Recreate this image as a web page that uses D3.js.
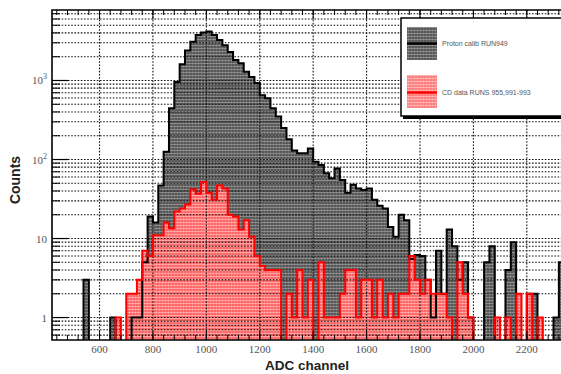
<!DOCTYPE html>
<html><head><meta charset="utf-8">
<script src="https://cdn.jsdelivr.net/npm/d3@7"></script>
<style>html,body{margin:0;padding:0;background:#fff;}svg{display:block;}</style>
</head><body>
<script>
// ---- data ----
const binStart = 420, binWidth = 20;
const protonCounts = [0,0,0,0,0,0,3,0,0,0,0,1,0,0,0,1,1,5,
 19,16,47,125,445,960,1600,2400,3100,3760,4040,4170,3760,3260,2800,2300,1820,1650,1290,1110,930,
 650,595,445,350,250,180,130,120,120,138,94,85,67,58,77,55,38,48,43,41,43,
 31,26,24,14,10.5,20,17,5.5,6.2,6,3,1,7,2,13,8,3,5,1,0,
 0,5,8,0,0,4,9,0,0,2,2,0,0,0,1,5];
const cdCounts = [0,0,0,0,0,0,0,0,0,0,0,0,1,0,2,2,3,7,
 6,11,11,16,13.5,22,24,27,42,37,52,38,31,47,43,20,19,13,17,10.5,6,
 4.5,4,4,4,0,2,1,4,1,3,0,5,1,1,1,2,4,4,1,3,3,
 1,3,1,2,1,2,2,6,3,2,3,2,2,2,1,0,5,2,1,0,
 0,0,0,1,0,1,0,2,0,2,0,1,0,0,0,0];
const xTicks = [600,800,1000,1200,1400,1600,1800,2000,2200];
const yTicks = [1,10,100,1000];
const yTickLabels = [["1",""],["10",""],["10","2"],["10","3"]];
const legendLabels = ["Proton calib RUN949","CD data RUNS 955,991-993"];

const W=561,H=374;
const L=52,T=10,B=340,R=561;
const x=d3.scaleLinear().domain([422,2328]).range([L,R]);
const ymin=0.52,ymax=7800;
const y=d3.scaleLog().domain([ymin,ymax]).range([B,T]).clamp(true);

const svg=d3.select("body").append("svg").attr("width",W).attr("height",H);
const defs=svg.append("defs");
defs.append("clipPath").attr("id","clip").append("rect").attr("x",L).attr("y",T).attr("width",R-L+5).attr("height",B-T);
function pat(id,base,lineOp){
  const p=defs.append("pattern").attr("id",id).attr("patternUnits","userSpaceOnUse").attr("width",3).attr("height",3);
  p.append("rect").attr("width",3).attr("height",3).attr("fill",base);
  p.append("rect").attr("width",3).attr("height",1).attr("fill","#fff").attr("opacity",lineOp);
  p.append("rect").attr("width",1).attr("height",3).attr("fill","#fff").attr("opacity",lineOp*0.4);
}
pat("gpat","#585858",0.28);
pat("rpat","#ff6666",0.38);

const bins=d3.range(protonCounts.length).map(i=>binStart+i*binWidth);
function stepPts(vals){
  const pts=[[bins[0],0]];
  vals.forEach((v,i)=>{pts.push([bins[i],v]);pts.push([bins[i]+binWidth,v]);});
  pts.push([bins[bins.length-1]+binWidth,0]);
  return pts;
}
const line=d3.line().x(d=>x(d[0])).y(d=>d[1]<=0?B+1:y(d[1]));

const plot=svg.append("g").attr("clip-path","url(#clip)");
plot.append("path").attr("d",line(stepPts(protonCounts))+"Z").attr("fill","url(#gpat)");
plot.append("path").attr("d",line(stepPts(cdCounts))+"Z").attr("fill","url(#rpat)");

// grid
const gridY=[];
for(let e=-1;e<=3;e++)for(let m=1;m<=9;m++){const v=m*Math.pow(10,e);if(v>ymin&&v<ymax)gridY.push(v);}
plot.selectAll(".gy").data(gridY).enter().append("line")
 .attr("x1",L).attr("x2",R).attr("y1",d=>y(d)).attr("y2",d=>y(d))
 .attr("stroke","#111").attr("stroke-width",1.1).attr("stroke-dasharray","1.6,1.6");
plot.selectAll(".gx").data(xTicks).enter().append("line")
 .attr("x1",d=>x(d)).attr("x2",d=>x(d)).attr("y1",T).attr("y2",B)
 .attr("stroke","#111").attr("stroke-width",1.1).attr("stroke-dasharray","1.6,1.6");

plot.append("path").attr("d",line(stepPts(protonCounts))).attr("fill","none").attr("stroke","#000").attr("stroke-width",2);
plot.append("path").attr("d",line(stepPts(cdCounts))).attr("fill","none").attr("stroke","#f00").attr("stroke-width",2);

// frame
svg.append("path").attr("d",`M${R+2},${T}H${L}V${B}H${R+2}`).attr("fill","none").attr("stroke","#000").attr("stroke-width",1.6);

// x ticks
const xMinor=d3.range(440,2340,40);
const ax=svg.append("g");
ax.selectAll(".xm").data(xMinor).enter().append("line")
 .attr("x1",d=>x(d)).attr("x2",d=>x(d)).attr("y1",B).attr("y2",B-5).attr("stroke","#000");
ax.selectAll(".xM").data(xTicks).enter().append("line")
 .attr("x1",d=>x(d)).attr("x2",d=>x(d)).attr("y1",B).attr("y2",B-9).attr("stroke","#000");
ax.selectAll(".xt").data(xMinor).enter().append("line")
 .attr("x1",d=>x(d)).attr("x2",d=>x(d)).attr("y1",T).attr("y2",T+5).attr("stroke","#000");
ax.selectAll(".xT").data(xTicks).enter().append("line")
 .attr("x1",d=>x(d)).attr("x2",d=>x(d)).attr("y1",T).attr("y2",T+9).attr("stroke","#000");
ax.selectAll(".xl").data(xTicks).enter().append("text")
 .attr("x",d=>x(d)).attr("y",353).attr("text-anchor","middle")
 .attr("font-family","Liberation Serif, DejaVu Serif, serif").attr("font-size",11).attr("fill","#555").text(d=>d);

// y ticks
const yMinor=gridY.filter(v=>yTicks.indexOf(v)<0);
const ay=svg.append("g");
ay.selectAll(".ym").data(yMinor).enter().append("line")
 .attr("x1",L).attr("x2",L+8).attr("y1",d=>y(d)).attr("y2",d=>y(d)).attr("stroke","#000");
ay.selectAll(".yM").data(yTicks).enter().append("line")
 .attr("x1",L).attr("x2",L+16).attr("y1",d=>y(d)).attr("y2",d=>y(d)).attr("stroke","#000").attr("stroke-width",1.2);
const yl=ay.selectAll(".yl").data(yTicks).enter().append("text")
 .attr("x",47).attr("y",d=>y(d)+4).attr("text-anchor","end")
 .attr("font-family","Liberation Serif, DejaVu Serif, serif").attr("font-size",11).attr("fill","#555");
yl.each(function(d,i){
  const t=d3.select(this);const lab=yTickLabels[i];
  t.append("tspan").text(lab[0]);
  if(lab[1])t.append("tspan").attr("dy",-5).attr("font-size",8).text(lab[1]);
});

// titles
svg.append("text").attr("x",307).attr("y",370).attr("text-anchor","middle")
 .attr("font-family","Liberation Sans, Arial, sans-serif").attr("font-weight","bold").attr("font-size",13.5).attr("fill","#222").text("ADC channel");
svg.append("text").attr("transform","translate(20,180) rotate(-90)").attr("text-anchor","middle")
 .attr("font-family","Liberation Sans, Arial, sans-serif").attr("font-weight","bold").attr("font-size",14).attr("fill","#222").text("Counts");

// legend
const lg=svg.append("g");
lg.append("rect").attr("x",403).attr("y",20).attr("width",200).attr("height",99).attr("fill","#000");
lg.append("rect").attr("x",401).attr("y",18).attr("width",200).attr("height",98).attr("fill","#fff").attr("stroke","#000").attr("stroke-width",1.5);
lg.append("rect").attr("x",407).attr("y",27).attr("width",30).attr("height",33).attr("fill","url(#gpat)");
lg.append("line").attr("x1",407).attr("x2",437).attr("y1",43.5).attr("y2",43.5).attr("stroke","#000").attr("stroke-width",2.5);
lg.append("rect").attr("x",407).attr("y",75).attr("width",30).attr("height",33).attr("fill","url(#rpat)").attr("opacity",0.85);
lg.append("line").attr("x1",407).attr("x2",437).attr("y1",92.5).attr("y2",92.5).attr("stroke","#f00").attr("stroke-width",2.5);
lg.selectAll(".lt").data(legendLabels).enter().append("text")
 .attr("x",442).attr("y",(d,i)=>i?95:46).attr("font-family","Liberation Sans, Arial, sans-serif")
 .attr("font-size",7).attr("fill","#555").text(d=>d);
</script>
</body></html>
